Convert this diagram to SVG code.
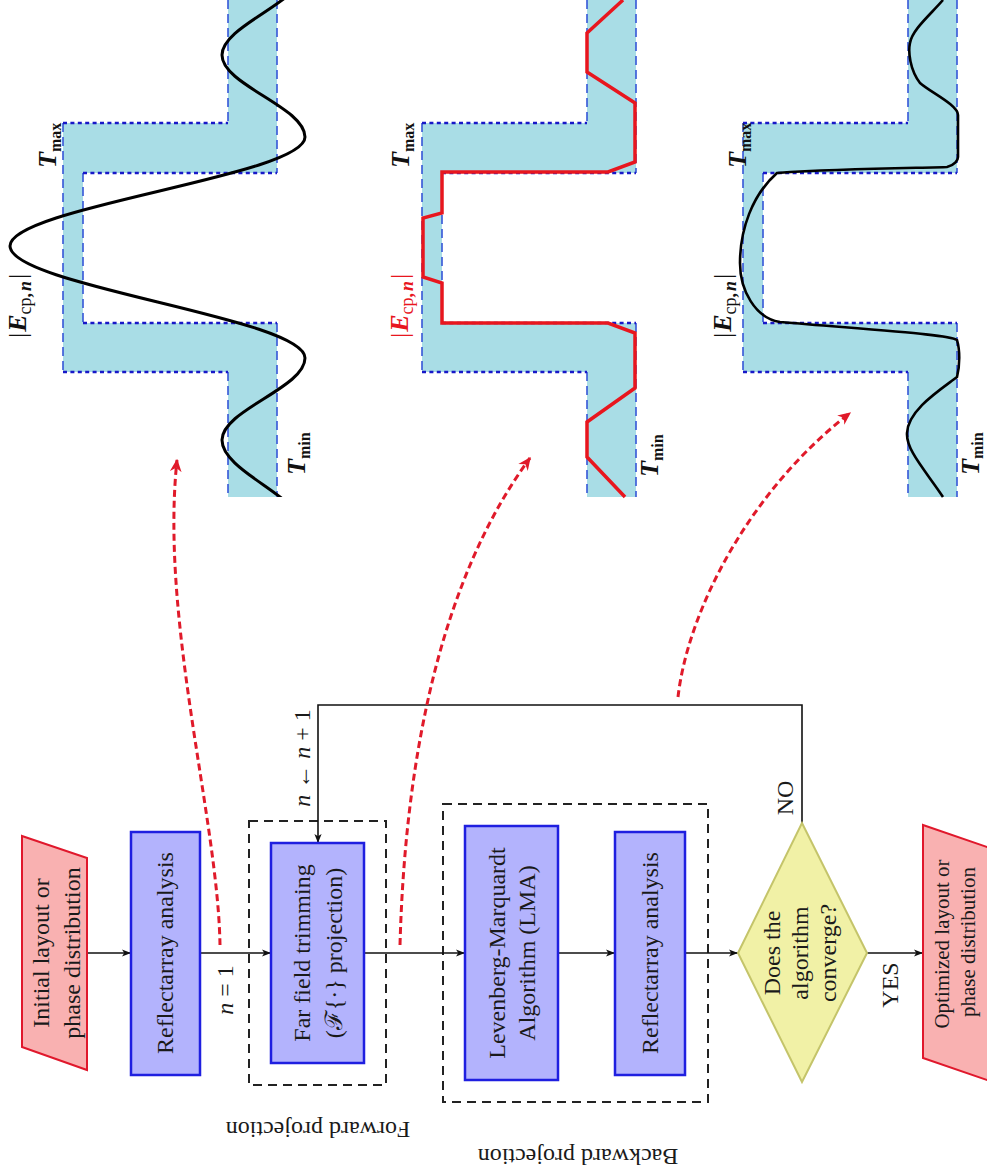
<svg xmlns="http://www.w3.org/2000/svg" width="987" height="1171" viewBox="0 0 987 1171">
<style>
.box{fill:#b3b3fd;stroke:#1f1fe0;stroke-width:2.5}
.io{fill:#f9b1b1;stroke:#e0182c;stroke-width:2}
.dec{fill:#f1f1a6;stroke:#c4c46a;stroke-width:2}
.grp{fill:none;stroke:#222;stroke-width:2;stroke-dasharray:9 6}
.t{font-family:"Liberation Serif","Times New Roman","DejaVu Serif",serif;font-size:24px;fill:#1a1a1a}
.s{font-size:21px}
.edge{fill:none;stroke:#111;stroke-width:1.6}
.red{fill:none;stroke:#e01a2a;stroke-width:3;stroke-dasharray:7 4}
.band{fill:#a9dde6}
.dsh{stroke:#3556d8;stroke-width:1.6;stroke-dasharray:9 5;fill:none}
.dot{stroke:#1818c8;stroke-width:2.6;stroke-dasharray:4 3.4;fill:none}
.m{font-family:"Liberation Serif","Times New Roman","DejaVu Serif",serif;font-size:26px;fill:#111}
.bi{font-weight:bold;font-style:italic}
.sub{font-size:16px;font-weight:bold}
.cs{font-size:18px}
</style>
<defs>
<marker id="ah" viewBox="0 0 10 10" refX="10" refY="5" markerWidth="9" markerHeight="9" orient="auto" markerUnits="userSpaceOnUse"><path d="M0,1 L10,5 L0,9 L2.5,5 z" fill="#111"/></marker>
<marker id="ahr" viewBox="0 0 10 10" refX="9" refY="5" markerWidth="13" markerHeight="13" orient="auto" markerUnits="userSpaceOnUse"><path d="M0,0.5 L10,5 L0,9.5 L3,5 z" fill="#e01a2a"/></marker>
<g id="band">
<path class="band" d="M228,0 V123 H63 V372 H228 V497 H277 V323 H83 V173 H277 V0 Z"/>
<path class="dsh" d="M228,0 V123 M63,123 V372 M228,372 V497 M277,0 V173 M83,173 V323 M277,323 V497"/>
<path class="dot" d="M63,123 H228 M63,372 H228 M83,173 H277 M83,323 H277"/>
</g>
<clipPath id="pc"><rect x="0" y="0" width="987" height="497"/></clipPath>
</defs>

<g id="plot1">
<use href="#band"/>
<path clip-path="url(#pc)" fill="none" stroke="#000" stroke-width="3" d="M305,530 C305,498 222,472 222,440 C222,410 305,388 305,358 C305,318 10,286 10,246 C10,207 305,176 305,137 C305,107 222,85 222,55 C222,25 305,1 305,-30"/>
<text class="m" transform="translate(56,168) rotate(-90)"><tspan class="bi">T</tspan><tspan class="sub" dy="5">max</tspan></text>
<text class="m" transform="translate(26,338) rotate(-90)">|<tspan class="bi" dx="1">E</tspan><tspan class="cs" dy="5">cp</tspan><tspan class="cs" font-weight="bold">,</tspan><tspan class="cs bi" dx="2">n</tspan><tspan dy="-5" dx="2">|</tspan></text>
<text class="m" transform="translate(305,475) rotate(-90)"><tspan class="bi">T</tspan><tspan class="sub" dy="5">min</tspan></text>
</g>

<g id="plot2">
<use href="#band" x="359"/>
<path fill="none" stroke="#e8161e" stroke-width="3.5" stroke-linejoin="miter" d="M625,497 L587,457 L587,422 L635,388 L635,333 L608,323 L442,323 L442,283 L423,277 L423,218 L442,213 L442,172 L608,172 L635,162 L635,103 L587,72 L587,33 L623,0"/>
<text class="m" transform="translate(409,168) rotate(-90)"><tspan class="bi">T</tspan><tspan class="sub" dy="5">max</tspan></text>
<text class="m" style="fill:#e8161e" transform="translate(408,338) rotate(-90)">|<tspan class="bi" dx="1">E</tspan><tspan class="cs" dy="5">cp</tspan><tspan class="cs" font-weight="bold">,</tspan><tspan class="cs bi" dx="2">n</tspan><tspan dy="-5" dx="2">|</tspan></text>
<text class="m" transform="translate(658,477) rotate(-90)"><tspan class="bi">T</tspan><tspan class="sub" dy="5">min</tspan></text>
</g>

<g id="plot3">
<use href="#band" x="680"/>
<path fill="none" stroke="#000" stroke-width="2.6" d="M943,497 C925,470 906,450 907,433 C908,410 940,390 957,377 C960,365 960,350 957,340 C950,335 900,332 780,322 C755,318 740,290 740,263 C740,230 752,195 777,173 C850,168 930,168 947,167 C955,165 958,160 958,157 L958,115 C958,105 930,92 920,83 C910,70 908,52 910,43 C912,30 930,15 943,0"/>
<text class="m" transform="translate(746,168) rotate(-90)"><tspan class="bi">T</tspan><tspan class="sub" dy="5">max</tspan></text>
<text class="m" transform="translate(731,338) rotate(-90)">|<tspan class="bi" dx="1">E</tspan><tspan class="cs" dy="5">cp</tspan><tspan class="cs" font-weight="bold">,</tspan><tspan class="cs bi" dx="2">n</tspan><tspan dy="-5" dx="2">|</tspan></text>
<text class="m" transform="translate(979,475) rotate(-90)"><tspan class="bi">T</tspan><tspan class="sub" dy="4">min</tspan></text>
</g>

<g id="groups">
<rect class="grp" x="249" y="821" width="137" height="264"/>
<text class="t" transform="translate(318,1130) rotate(180)" text-anchor="middle" dominant-baseline="central">Forward projection</text>
<rect class="grp" x="443" y="804" width="265" height="298"/>
<text class="t" transform="translate(578,1157) rotate(180)" text-anchor="middle" dominant-baseline="central">Backward projection</text>
</g>

<g id="connectors">
<path class="edge" marker-end="url(#ah)" d="M87,953 H131"/>
<path class="edge" marker-end="url(#ah)" d="M200,953 H271"/>
<path class="edge" marker-end="url(#ah)" d="M364,953 H465"/>
<path class="edge" marker-end="url(#ah)" d="M558,953 H615"/>
<path class="edge" marker-end="url(#ah)" d="M685,953 H738"/>
<path class="edge" marker-end="url(#ah)" d="M867,953 H923"/>
<path class="edge" marker-end="url(#ah)" d="M802,823 V705 H318 V843"/>
<path class="red" marker-end="url(#ahr)" d="M220,945 C218,820 160,620 177,460"/>
<path class="red" marker-end="url(#ahr)" d="M400,945 C405,760 440,580 530,458"/>
<path class="red" marker-end="url(#ahr)" d="M678,697 C688,610 750,490 850,413"/>
<text class="t" transform="translate(225,990) rotate(-90)" text-anchor="middle" dominant-baseline="central"><tspan font-style="italic">n</tspan> = 1</text>
<text class="t" transform="translate(302,758) rotate(-90)" text-anchor="middle" dominant-baseline="central"><tspan font-style="italic">n</tspan> ← <tspan font-style="italic">n</tspan> + 1</text>
<text class="t" transform="translate(785,798) rotate(-90)" text-anchor="middle" dominant-baseline="central">NO</text>
<text class="t" transform="translate(890,985) rotate(-90)" text-anchor="middle" dominant-baseline="central">YES</text>
</g>

<g id="n-initial">
<polygon class="io" points="22,836 87,858 87,1070 22,1047"/>
<text class="t" transform="translate(41,953) rotate(-90)" text-anchor="middle" dominant-baseline="central">Initial layout or</text>
<text class="t" transform="translate(72,953) rotate(-90)" text-anchor="middle" dominant-baseline="central">phase distribution</text>
</g>
<g id="n-ra1">
<rect class="box" x="131" y="832" width="69" height="243"/>
<text class="t" transform="translate(165,953) rotate(-90)" text-anchor="middle" dominant-baseline="central">Reflectarray analysis</text>
</g>
<g id="n-fft">
<rect class="box" x="271" y="843" width="93" height="220"/>
<text class="t" transform="translate(302,953) rotate(-90)" text-anchor="middle" dominant-baseline="central">Far field trimming</text>
<text class="t" transform="translate(334,953) rotate(-90)" text-anchor="middle" dominant-baseline="central">(ℱ{·} projection)</text>
</g>
<g id="n-lma">
<rect class="box" x="465" y="826" width="93" height="254"/>
<text class="t" transform="translate(497,953) rotate(-90)" text-anchor="middle" dominant-baseline="central">Levenberg-Marquardt</text>
<text class="t" transform="translate(527,953) rotate(-90)" text-anchor="middle" dominant-baseline="central">Algorithm (LMA)</text>
</g>
<g id="n-ra2">
<rect class="box" x="615" y="832" width="70" height="243"/>
<text class="t" transform="translate(650,953) rotate(-90)" text-anchor="middle" dominant-baseline="central">Reflectarray analysis</text>
</g>
<g id="n-decision">
<polygon class="dec" points="738,953 802,823 867,953 802,1082"/>
<text class="t" transform="translate(772,953) rotate(-90)" text-anchor="middle" dominant-baseline="central">Does the</text>
<text class="t" transform="translate(800,953) rotate(-90)" text-anchor="middle" dominant-baseline="central">algorithm</text>
<text class="t" transform="translate(828,953) rotate(-90)" text-anchor="middle" dominant-baseline="central">converge?</text>
</g>
<g id="n-optimized">
<polygon class="io" points="923,825 990,848 990,1081 923,1058"/>
<text class="t s" transform="translate(942,944) rotate(-90)" text-anchor="middle" dominant-baseline="central">Optimized layout or</text>
<text class="t s" transform="translate(968,942) rotate(-90)" text-anchor="middle" dominant-baseline="central">phase distribution</text>
</g>
</svg>
